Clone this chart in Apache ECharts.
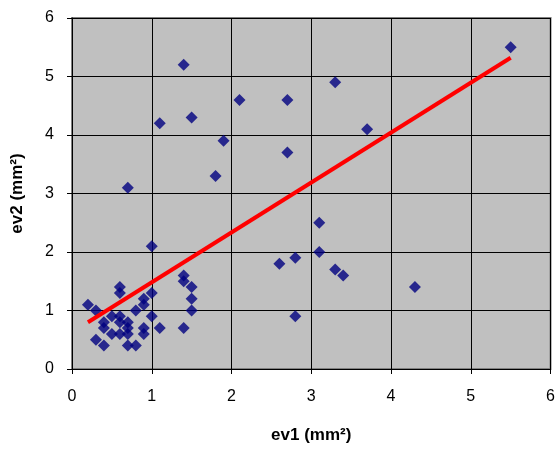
<!DOCTYPE html>
<html>
<head>
<meta charset="utf-8">
<script src="https://cdn.jsdelivr.net/npm/echarts@6/dist/echarts.min.js"></script>
<style>
  html, body { margin: 0; padding: 0; background: #fff; }
  #chart { width: 558px; height: 449px; }
</style>
</head>
<body>
<div id="chart"></div>
<script>
const ev1 = [0.2, 0.3, 0.3, 0.4, 0.4, 0.4, 0.5, 0.5, 0.6, 0.6, 0.6, 0.6, 0.6, 0.7, 0.7, 0.7, 0.7, 0.8, 0.8,
  0.9, 0.9, 0.9, 0.9, 1.0, 1.0, 1.0, 1.1, 0.7, 1.1, 1.4, 1.5, 1.4, 1.4, 1.5, 1.5, 1.5, 1.4,
  1.8, 1.9, 2.1, 2.7, 2.7, 2.6, 2.8, 2.8, 3.1, 3.1, 3.3, 3.4, 3.3, 3.7, 4.3, 5.5];
const ev2 = [1.1, 1.0, 0.5, 0.8, 0.7, 0.4, 0.9, 0.6, 1.4, 1.3, 0.9, 0.8, 0.6, 0.8, 0.7, 0.6, 0.4, 1.0, 0.4,
  1.2, 1.1, 0.7, 0.6, 1.3, 0.9, 2.1, 0.7, 3.1, 4.2, 5.2, 4.3, 1.6, 1.5, 1.4, 1.2, 1.0, 0.7,
  3.3, 3.9, 4.6, 4.6, 3.7, 1.8, 1.9, 0.9, 2.5, 2.0, 1.7, 1.6, 4.9, 4.1, 1.4, 5.5];

// trend line end points
const trendX = [0.2, 5.5];
const trendY = [0.8, 5.32];

const ticks = [0, 1, 2, 3, 4, 5, 6];

const chart = echarts.init(document.getElementById('chart'));

const axisCommon = {
  type: 'value',
  min: ticks[0],
  max: ticks[ticks.length - 1],
  interval: 1,
  axisLine: { show: true, onZero: false, lineStyle: { color: '#000', width: 1 } },
  axisTick: { show: true, length: 5, inside: false, lineStyle: { color: '#000' } },
  axisLabel: { color: '#000', fontSize: 16, fontFamily: 'Liberation Sans, Arial, sans-serif' },
  splitLine: { show: true, lineStyle: { color: '#000', width: 1 } },
  nameLocation: 'middle',
  nameTextStyle: { color: '#000', fontSize: 17, fontWeight: 'bold', fontFamily: 'Liberation Sans, Arial, sans-serif' }
};

chart.setOption({
  animation: false,
  grid: {
    left: 72, right: 6, top: 18, bottom: 79,
    show: true,
    backgroundColor: '#c0c0c0',
    borderColor: '#808080',
    borderWidth: 2
  },
  xAxis: Object.assign({}, axisCommon, {
    name: 'ev1 (mm²)',
    nameGap: 58,
    axisLabel: Object.assign({}, axisCommon.axisLabel, { margin: 20 })
  }),
  yAxis: Object.assign({}, axisCommon, {
    name: 'ev2 (mm²)',
    nameGap: 46,
    axisLabel: Object.assign({}, axisCommon.axisLabel, { margin: 18 })
  }),
  series: [
    {
      type: 'scatter',
      symbol: 'diamond',
      symbolSize: 12,
      itemStyle: { color: '#000080' },
      data: ev1.map((x, i) => [x, ev2[i]])
    },
    {
      type: 'line',
      symbol: 'none',
      lineStyle: { color: '#ff0000', width: 4 },
      data: trendX.map((x, i) => [x, trendY[i]]),
      z: 3
    }
  ]
});
</script>
</body>
</html>
